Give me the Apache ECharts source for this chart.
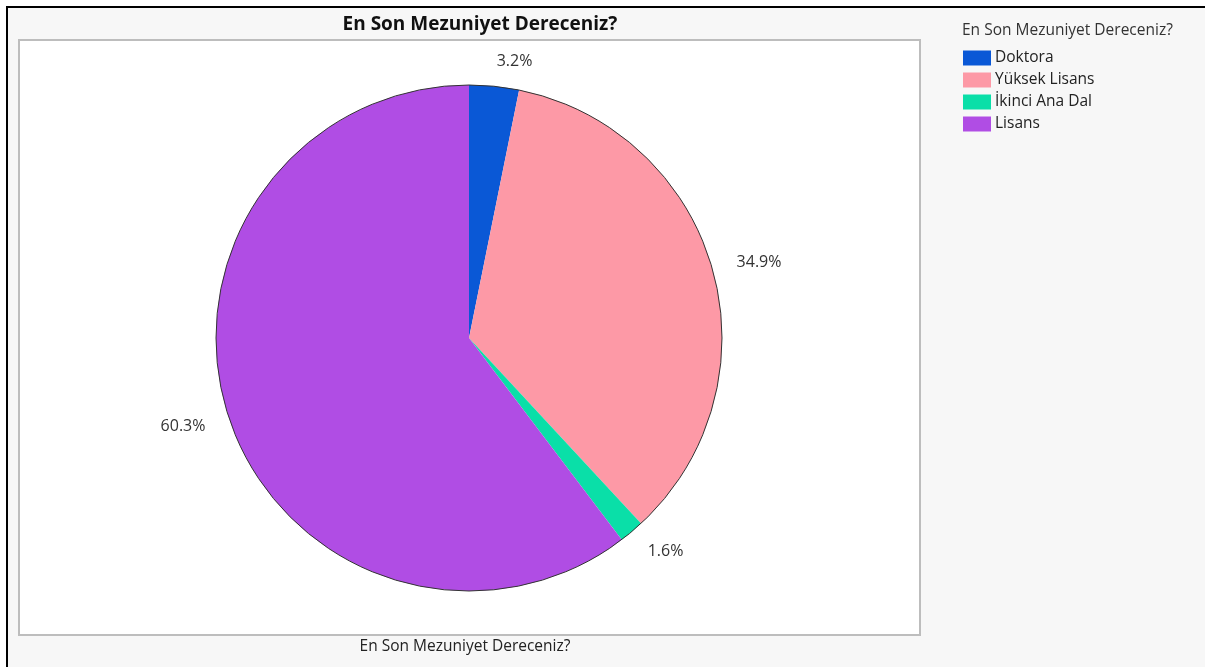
<!DOCTYPE html>
<html>
<head>
<meta charset="utf-8">
<script src="https://cdn.jsdelivr.net/npm/echarts@6/dist/echarts.min.js"></script>
<style>
  html, body { margin: 0; padding: 0; background: #fff; }
  #chart { width: 1205px; height: 667px; }
</style>
</head>
<body>
<div id="chart"></div>
<script>
var chartTitle = 'En Son Mezuniyet Dereceniz?'
var categories = ['Doktora', 'Yüksek Lisans', 'İkinci Ana Dal', 'Lisans']
var counts = [2, 22, 1, 38]
var colors = ['#0a58d6', '#fd99a6', '#0adfa8', '#b04de4']

var font = '"Open Sans", "Noto Sans", sans-serif'

var pieData = categories.map(function (name, i) {
  return { name: name, value: counts[i], itemStyle: { color: colors[i] } }
})

var option = {
  animation: false,
  graphic: [
    {
      type: 'rect', z: -10,
      shape: { x: 7, y: 7, width: 1210, height: 680 },
      style: { fill: '#f7f7f7', stroke: '#000', lineWidth: 2 }
    },
    {
      type: 'rect', z: -9,
      shape: { x: 19, y: 40, width: 901, height: 595 },
      style: { fill: '#fff', stroke: '#bdbdbd', lineWidth: 2 }
    },
    // chart title
    {
      type: 'text', x: 480, y: 25,
      style: { text: chartTitle, font: 'bold 19px ' + font, fill: '#111', align: 'center', verticalAlign: 'middle' }
    },
    // x axis title under the frame
    {
      type: 'text', x: 465, y: 647,
      style: { text: chartTitle, font: '15.5px ' + font, fill: '#222', align: 'center', verticalAlign: 'middle' }
    },
    // legend title
    {
      type: 'text', x: 962, y: 31,
      style: { text: chartTitle, font: '15.5px ' + font, fill: '#333', align: 'left', verticalAlign: 'middle' }
    }
  ],
  legend: {
    orient: 'vertical',
    left: 958,
    top: 45,
    itemWidth: 28,
    itemHeight: 15,
    itemGap: 6,
    icon: 'rect',
    textStyle: { fontFamily: font, fontSize: 15.5, color: '#222', padding: [0, 0, 0, -1] },
    data: categories
  },
  series: [
    {
      type: 'pie',
      center: [469, 338],
      radius: 253,
      startAngle: 90,
      clockwise: true,
      avoidLabelOverlap: false,
      itemStyle: { borderWidth: 0 },
      label: {
        show: true,
        position: 'outside',
        distanceToLabelLine: 0,
        formatter: function (p) { return p.percent.toFixed(1) + '%' },
        fontFamily: font,
        fontSize: 16,
        color: '#333'
      },
      labelLine: { show: false, length: 25, length2: 0 },
      emphasis: { disabled: true },
      data: pieData
    },
    {
      // dark outline round the pie only
      type: 'pie',
      center: [469, 338],
      radius: 253,
      silent: true,
      legendHoverLink: false,
      label: { show: false },
      labelLine: { show: false },
      itemStyle: { color: 'none', borderColor: '#333', borderWidth: 1 },
      data: [{ name: 'outline', value: 1 }]
    }
  ]
}

var chart = echarts.init(document.getElementById('chart'))
chart.setOption(option)
</script>
</body>
</html>
